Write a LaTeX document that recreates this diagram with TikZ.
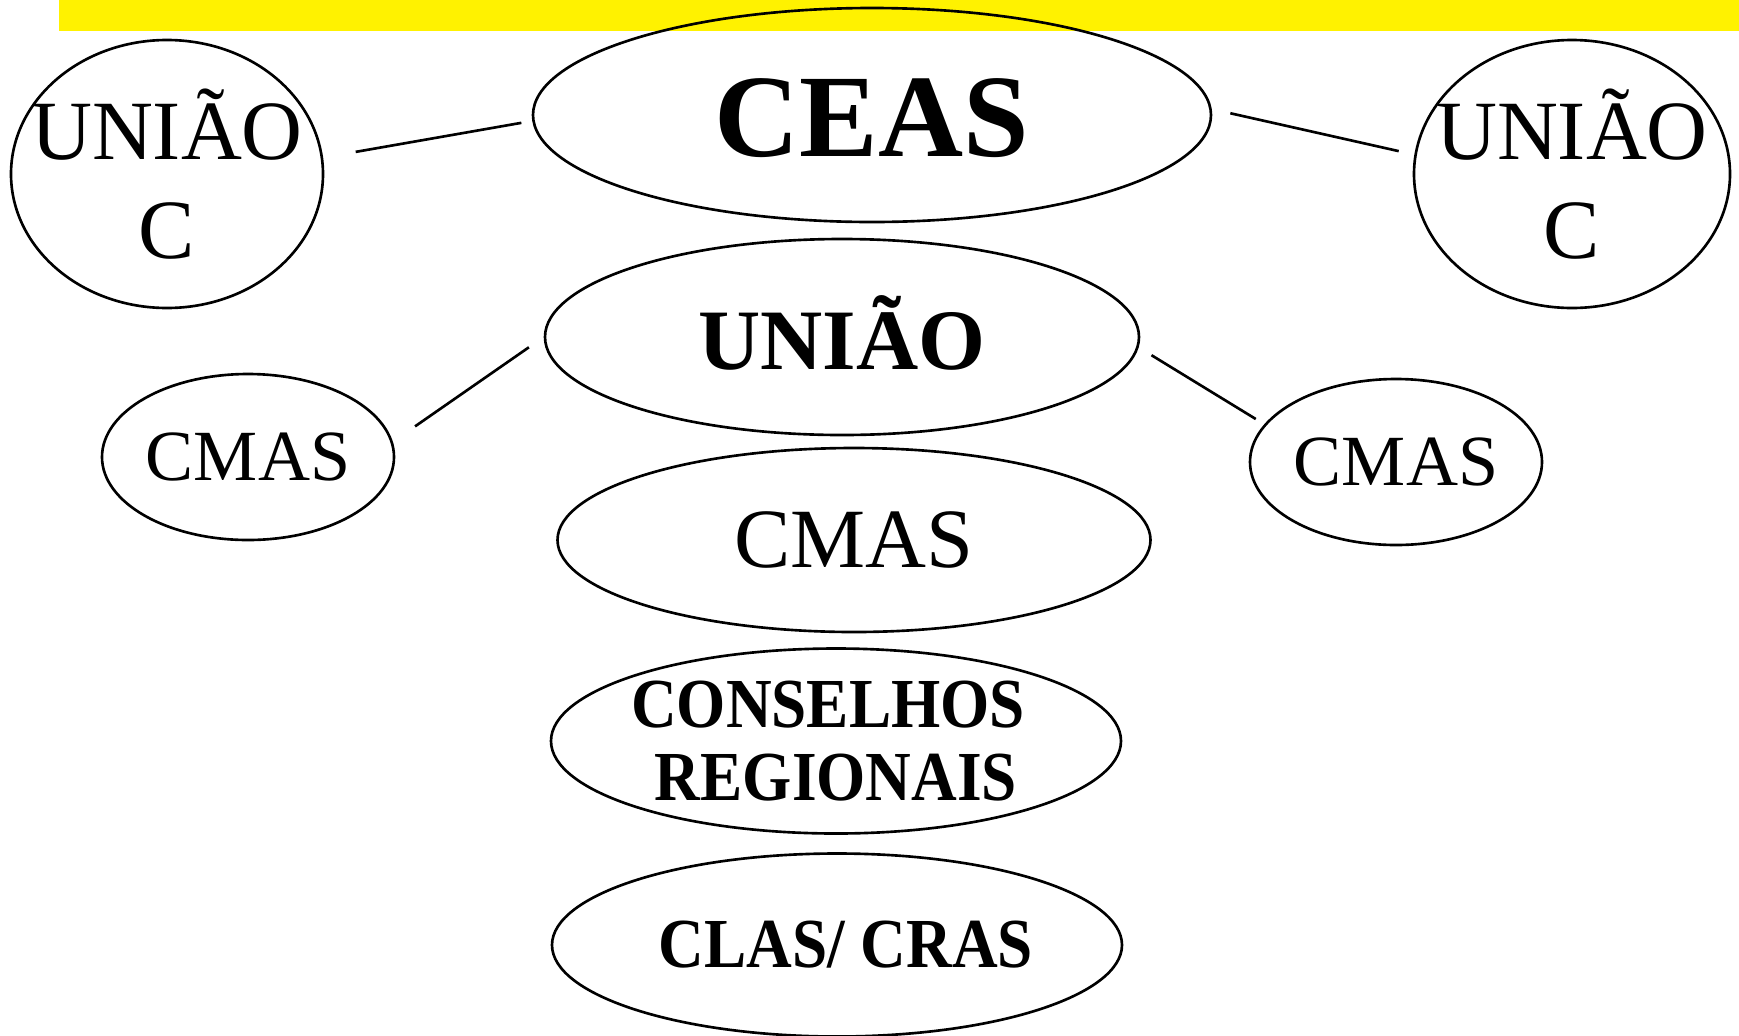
\documentclass[tikz,border=0pt]{standalone}
\usepackage{fontspec}
\setmainfont{Liberation Serif}
\newfontfamily\narrowserif[FakeStretch=0.9]{Liberation Serif}
\usetikzlibrary{shapes.geometric}

\tikzset{
  oval/.style={draw,ellipse,inner sep=0pt,line width=0.75pt},
  edge/.style={line width=0.75pt},
  txtbig/.style={align=center,font=\fontsize{24}{28.2}\selectfont},
  txtsmall/.style={font=\fontsize{20.5}{24}\selectfont},
  txthead/.style={font=\bfseries\fontsize{33.5}{38}\selectfont},
  txtbold/.style={font=\bfseries\fontsize{24.5}{28}\selectfont},
  txtnarrow/.style={align=center,font=\narrowserif\bfseries\fontsize{20}{21}\selectfont}
}

\begin{document}
\begin{tikzpicture}[x=0.1mm,y=-0.1mm]
  \useasboundingbox (0,0) rectangle (1739,1035);
  \fill[yellow] (59,0) rectangle (1739,31);

  % top row
  \node[oval,minimum width=67.8mm,minimum height=21.4mm,
    label={[txthead,yshift=-0.3mm]center:CEAS}] (ceas) at (872,115) {};
  \node[oval,minimum width=31.2mm,minimum height=26.8mm,
    label={[txtbig]center:UNIÃO\\C}] (ucL) at (167,174) {};
  \node[oval,minimum width=31.6mm,minimum height=26.8mm,
    label={[txtbig]center:UNIÃO\\C}] (ucR) at (1572,174) {};

  % second row
  \node[oval,minimum width=59.4mm,minimum height=19.6mm,
    label={[txtbold,yshift=0.4mm]center:UNIÃO}] (uniao) at (842,337) {};
  \node[oval,minimum width=29.2mm,minimum height=16.6mm,
    label={[txtsmall]center:CMAS}] (cmasL) at (248,457) {};
  \node[oval,minimum width=29.2mm,minimum height=16.6mm,
    label={[txtsmall]center:CMAS}] (cmasR) at (1396,462) {};

  % column below
  \node[oval,minimum width=59.3mm,minimum height=18.4mm,
    label={[txtbig]center:CMAS}] (cmas) at (854,540) {};
  \node[oval,minimum width=57mm,minimum height=18.5mm,
    label={[txtnarrow]center:CONSELHOS\hspace*{1.6mm}\\REGIONAIS}] (cons) at (836,741) {};
  \node[oval,minimum width=57mm,minimum height=18.3mm,
    label={[txtnarrow,xshift=0.9mm]center:CLAS/ CRAS}] (clas) at (837,945) {};

  \draw[edge,shorten <=3.3mm,shorten >=1.1mm] (ucL.6) -- (ceas.181);
  \draw[edge,shorten <=1.9mm,shorten >=1.6mm] (ceas.1) -- (ucR.173);
  \draw[edge,shorten <=2.7mm,shorten >=1.8mm] (cmasL.6) -- (uniao.west);
  \draw[edge,shorten <=1.5mm,shorten >=1mm] (uniao.358) -- (cmasR.164);
\end{tikzpicture}
\end{document}
